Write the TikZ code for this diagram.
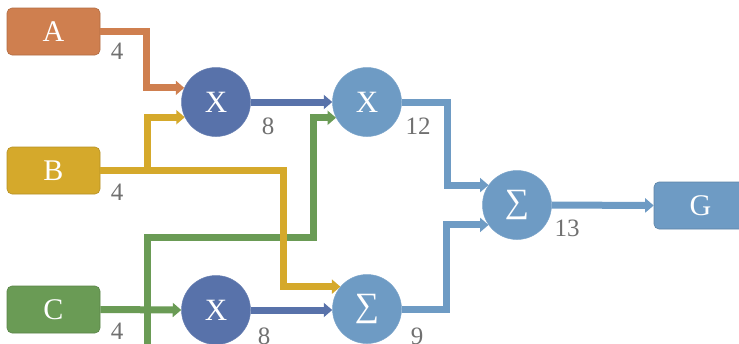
\documentclass[tikz,border=0pt]{standalone}
\usepackage{fontspec}
\setmainfont{Liberation Serif}
\usetikzlibrary{arrows.meta}
\definecolor{corange}{HTML}{CF7F4F}
\definecolor{cyellow}{HTML}{D5A92B}
\definecolor{cgreen}{HTML}{6A9B55}
\definecolor{cdblue}{HTML}{5872AA}
\definecolor{clblue}{HTML}{6E9BC4}
\definecolor{cnum}{HTML}{707070}
\begin{document}
\begin{tikzpicture}[x=1pt,y=1pt,
  inbox/.style={rectangle, rounded corners=5pt, minimum width=93pt, minimum height=47pt, inner sep=0pt,
    fill=#1, draw=#1!85!black, line width=0.6pt, text=white, font=\fontsize{30}{30}\selectfont},
  opnode/.style={circle, minimum size=69pt, inner sep=0pt, fill=#1, draw=#1!90!white, line width=0.5pt,
    text=white, font=\fontsize{31}{31}\selectfont},
  sumnode/.style={opnode=#1, font=\fontsize{34}{34}\selectfont},
  numlbl/.style={text=cnum, inner sep=0pt, font=\fontsize{25}{25}\selectfont},
  conn/.style={draw=#1, line width=7pt, line join=miter, -{Triangle[length=8.5pt,width=14pt]}},
]
\useasboundingbox (0,0) rectangle (739,-343);
\begin{scope}
\clip (0,0) rectangle (739,-343);
% nodes
\node[inbox=corange] (A) at (53.5,-31.5) {A};
\node[inbox=cyellow] (B) at (53.5,-170.5) {B};
\node[inbox=cgreen] (C) at (53.5,-309.5) {C};
\node[inbox=clblue] (G) at (700.5,-205.5) {G};
\node[opnode=cdblue] (X1) at (216,-102) {X};
\node[opnode=clblue] (X2) at (367,-102) {X};
\node[opnode=cdblue] (XL) at (216,-310) {X};
\node[sumnode=clblue] (SL) at (367,-309) {∑};
\node[sumnode=clblue] (SF) at (517,-205) {∑};
\coordinate (gs) at (147,-360);
% connectors
\draw[conn=cgreen] (gs) |- (313,-237) |- (X2.207);
\draw[conn=cgreen] (C.east) -- (XL.west);
\draw[conn=corange] (A.east) -- ++(46,0) |- (X1.156);
\draw[conn=cyellow] (B.east) -- ++(47,0) |- (X1.206);
\draw[conn=cyellow] (B.east) -- ++(183,0) |- (SL.140);
\draw[conn=cdblue] (X1.east) -- (X2.west);
\draw[conn=cdblue] (XL.east) -- (XL.east -| SL.west);
\draw[conn=clblue] (X2.east) -- ++(46,0) |- (SF.145);
\draw[conn=clblue] (SL.east) -- ++(45,0) |- (SF.215);
\draw[conn=clblue] (SF.east) -- (G.west);
% labels
\node[numlbl] (nA) at (117,-51) {4};
\node[numlbl] (nB) at (117,-192) {4};
\node[numlbl] (nC) at (117,-331) {4};
\node[numlbl] (n1) at (268,-126) {8};
\node[numlbl] (n2) at (418,-126) {12};
\node[numlbl] (n3) at (567,-228) {13};
\node[numlbl] (n4) at (417,-336) {9};
\node[numlbl] (n5) at (264,-336) {8};
\end{scope}
\end{tikzpicture}
\end{document}
